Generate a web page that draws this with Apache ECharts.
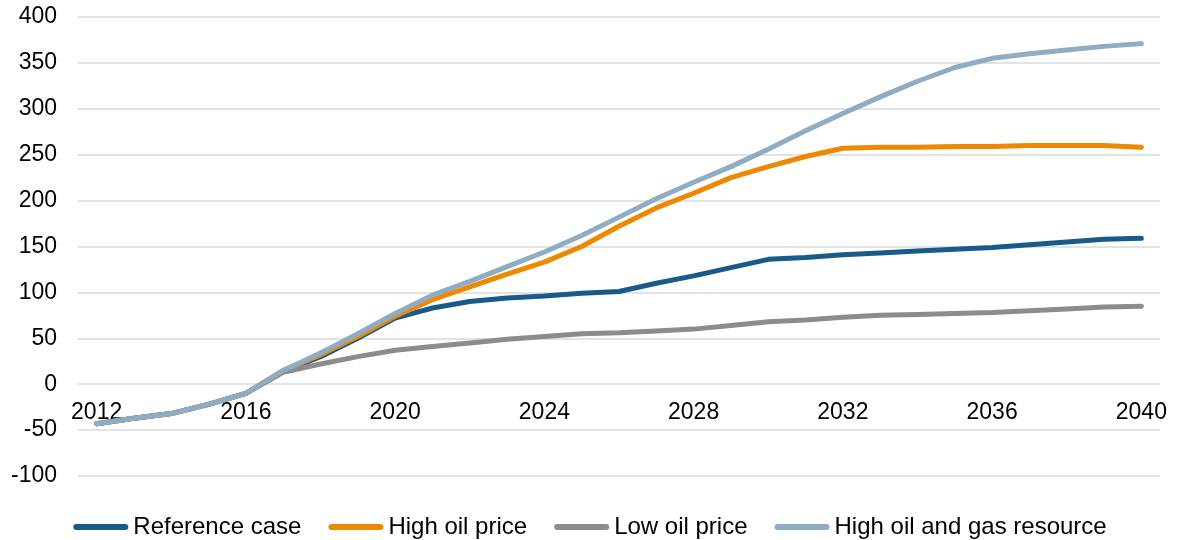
<!DOCTYPE html>
<html><head><meta charset="utf-8">
<script src="https://cdn.jsdelivr.net/npm/echarts@6/dist/echarts.min.js"></script>
<style>html,body{margin:0;padding:0;background:#fff}#c{width:1180px;height:540px}</style>
</head><body><div id="c"></div>
<script>
const years = ['2012','2013','2014','2015','2016','2017','2018','2019','2020','2021','2022','2023','2024','2025','2026','2027','2028','2029','2030','2031','2032','2033','2034','2035','2036','2037','2038','2039','2040'];
const seriesNames = ['Reference case','High oil price','Low oil price','High oil and gas resource'];
const referenceCase = [-43,-37,-32,-22,-10,14,30,50,72,83,90,94,96,99,101,110,118,127,136,138,141,143,145,147,149,152,155,158,159];
const highOilPrice = [-43,-37,-32,-22,-10,15,32,52,74,92,106,120,133,150,172,192,208,225,237,248,257,258,258,259,259,260,260,260,258];
const lowOilPrice = [-43,-37,-32,-22,-10,13,22,30,37,41,45,49,52,55,56,58,60,64,68,70,73,75,76,77,78,80,82,84,85];
const highResource = [-43,-37,-32,-22,-10,15,34,55,77,97,112,128,144,162,182,202,220,237,256,276,295,313,330,345,355,360,364,368,371];
const colors = ['#185A8A','#EE8800','#8C8C8C','#8EACC4'];
const allData = [referenceCase, highOilPrice, lowOilPrice, highResource];

const yMin = -100, yMax = 400;
const gridTop = 17, gridBottom = 64, H = 540;
const plotH = H - gridTop - gridBottom;
// move the category axis up to the zero line
const zeroOffset = -plotH * (0 - yMin) / (yMax - yMin);

const font = '"Liberation Sans", Arial, sans-serif';
const chart = echarts.init(document.getElementById('c'), null, {renderer:'canvas'});
chart.setOption({
  animation: false,
  grid: {left: 78, right: 20, top: gridTop, bottom: gridBottom, containLabel: false},
  legend: {
    top: 510, left: 'center',
    itemWidth: 55, itemHeight: 6, itemGap: 27,
    icon: 'path://M3,0 H52 A3,3 0 0 1 52,6 H3 A3,3 0 0 1 3,0 Z',
    textStyle: {fontFamily: font, fontSize: 24, color: '#000'},
    data: seriesNames
  },
  xAxis: {
    type: 'category', data: years, boundaryGap: true,
    offset: zeroOffset, z: 2,
    axisLine: {onZero: false, lineStyle: {color: '#D6E6F4', width: 1.5}},
    axisTick: {show: false},
    axisLabel: {interval: 3, fontFamily: font, fontSize: 23, color: '#000', margin: 17}
  },
  yAxis: {
    type: 'value', min: yMin, max: yMax, interval: 50, z: 1,
    axisLine: {show: false}, axisTick: {show: false},
    axisLabel: {fontFamily: font, fontSize: 23, color: '#000', margin: 21},
    splitLine: {lineStyle: {color: '#D9D9D9', width: 1.5}}
  },
  series: seriesNames.map((n, i) => ({
    name: n, type: 'line', data: allData[i], showSymbol: false, symbol: 'none',
    color: colors[i], z: 3,
    lineStyle: {width: 5, color: colors[i], cap: 'round', join: 'round'}
  }))
});
</script></body></html>
